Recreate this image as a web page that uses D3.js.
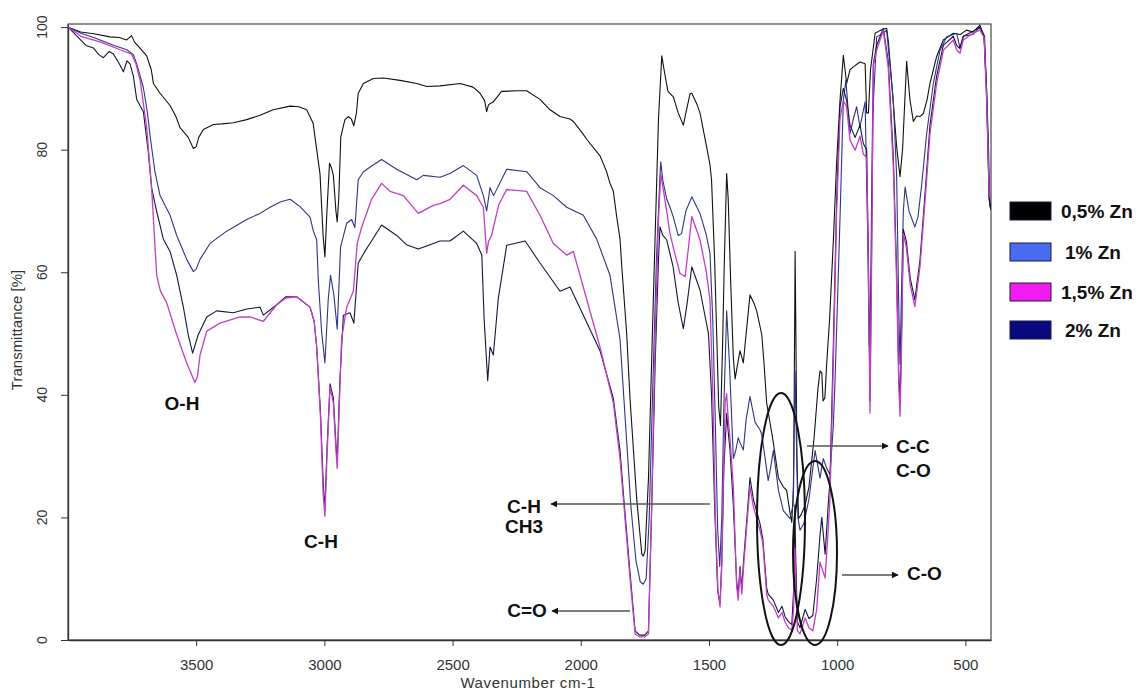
<!DOCTYPE html>
<html>
<head>
<meta charset="utf-8">
<script src="https://cdn.jsdelivr.net/npm/d3@7"></script>
<style>
  body { margin: 0; background: #fff; }
  svg { display: block; font-family: "Liberation Sans", Arial, sans-serif; }
  .axis path, .axis line { stroke: #333; }
  .lbl { font-weight: bold; font-size: 19px; fill: #111; }
</style>
</head>
<body>
<div id="chart"></div>
<script>
// FTIR spectra, [wavenumber, transmittance %]
const zn05 = [[4000,100],[3990,99.8],[3950,99.2],[3900,98.9],[3836,98.4],[3800,98.3],[3771,97.9],[3752,98.6],[3740,97.5],[3726,96.9],[3693,95.3],[3675,93],[3667,90.8],[3641,89.2],[3602,87.2],[3580,85.5],[3563,83.6],[3531,82],[3511,80.2],[3500,80.5],[3490,82],[3472,83.3],[3433,84.1],[3400,84.2],[3355,84.4],[3303,84.9],[3251,85.6],[3200,86.5],[3134,87.1],[3100,87],[3069,86.5],[3044,84.3],[3030,80],[3017,76],[3005,66],[2998,62.5],[2990,70],[2980,77.8],[2972,77],[2965,75.8],[2955,70],[2950,68.2],[2944,72],[2936,82.1],[2920,84.9],[2907,85.4],[2895,85],[2885,83.9],[2875,86],[2868,89.2],[2848,90.8],[2809,91.6],[2770,91.7],[2705,91.3],[2640,90.8],[2600,90.3],[2549,90.4],[2471,90.8],[2420,90.2],[2393,89.2],[2375,88],[2367,86.2],[2360,87.3],[2354,87.5],[2341,87.8],[2309,89.5],[2250,89.6],[2211,89.6],[2159,88.2],[2120,86.5],[2081,85.4],[2042,85],[2029,84.6],[1990,82.5],[1977,81.7],[1925,79],[1900,76.5],[1886,74.5],[1873,73.2],[1860,69.1],[1847,65.4],[1840,60.9],[1821,50],[1808,39.4],[1782,23.1],[1762,14],[1756,13.7],[1749,14.6],[1736,26.4],[1717,55.6],[1697,84.9],[1684,95.3],[1675,93],[1660,89.5],[1639,88.6],[1620,86],[1600,84],[1590,86],[1574,89.1],[1567,89.2],[1548,87.5],[1535,86],[1509,80.4],[1496,77.5],[1490,75.1],[1478,62],[1470,50],[1462,38],[1455,35],[1447,48],[1440,62],[1431,76.1],[1425,72],[1415,58],[1405,46],[1398,42.6],[1390,44.6],[1379,47.2],[1366,45.2],[1355,50],[1340,56.3],[1325,55],[1314,53.7],[1294,49.8],[1285,45],[1275,38.7],[1260,35],[1249,32.2],[1229,26.4],[1210,25],[1197,24.4],[1185,21],[1177,19.2],[1170,25],[1166,50],[1164,63.4],[1161,50],[1157,30],[1151,19.8],[1140,20.5],[1125,22],[1110,25],[1090,33],[1075,41],[1067,43.9],[1060,43.6],[1055,39],[1048,39.5],[1041,45],[1030,52],[1015,65],[1002,78],[989,88],[976,95.4],[963,90.8],[950,93],[937,93.5],[911,94.3],[891,94],[885,86],[878,86],[870,93],[852,99],[830,99.5],[807,99.8],[800,97.5],[787,90.8],[768,80.5],[755,75.6],[745,80],[729,94.4],[716,88.1],[703,84.6],[690,85.5],[677,85.4],[664,85.9],[650,88],[638,90.8],[612,95.2],[586,97.9],[547,99],[520,98.8],[495,99.5],[470,99.2],[443,100.3],[427,98.4],[417,89.7],[407,71.8],[401,70.2]];

const zn1 = [[4000,100],[3950,99],[3900,98.3],[3875,97.9],[3820,97],[3771,96.3],[3745,95.5],[3732,94],[3706,90.1],[3690,86],[3680,82.3],[3661,76.4],[3641,72.5],[3602,69.3],[3576,66],[3537,62.1],[3511,60.1],[3500,60.5],[3485,62.1],[3446,64.7],[3381,66.7],[3303,68.6],[3251,69.6],[3212,70.6],[3170,71.5],[3134,71.9],[3095,70.7],[3056,69],[3043,66.7],[3030,65.3],[3024,58.9],[3011,50.4],[2998,45.2],[2985,55.6],[2976,59.5],[2963,56.3],[2950,50.7],[2937,64.1],[2913,68],[2894,68.6],[2881,67.3],[2868,75.1],[2848,76.4],[2810,77.5],[2777,78.4],[2718,76.8],[2640,75.1],[2614,75.8],[2549,75.5],[2510,76.1],[2458,77.4],[2406,75.8],[2380,72.5],[2367,70],[2360,72],[2354,73.8],[2340,72.5],[2289,76.8],[2211,76.4],[2159,73.8],[2107,72.5],[2055,70.6],[1990,69.3],[1938,65.4],[1886,59.5],[1847,49.1],[1825,35],[1805,22],[1785,13],[1768,9.5],[1756,9.1],[1745,10],[1733,20],[1720,40],[1705,62],[1691,76],[1688,78],[1680,75],[1665,72],[1652,70.6],[1639,69],[1620,66],[1607,66.3],[1590,70],[1567,72.3],[1535,69.6],[1510,66],[1496,63.1],[1485,52],[1475,35],[1466,18],[1458,12],[1450,20],[1442,38],[1431,53.7],[1420,45],[1405,29.6],[1395,31],[1386,33],[1379,32.2],[1366,31],[1355,36],[1340,39.7],[1320,35.5],[1301,34.3],[1294,33.5],[1269,26],[1260,28],[1249,30.9],[1229,24.4],[1210,21.1],[1184,19.8],[1172,22],[1166,38],[1164,43.9],[1160,35],[1153,20],[1145,17.9],[1130,19],[1110,23],[1095,28],[1086,30.9],[1067,26.4],[1054,29.6],[1041,28],[1028,27],[1015,35],[1008,42.6],[989,68.6],[976,88],[966,91.3],[950,82.6],[937,85],[924,87],[911,83.7],[891,87.8],[881,66.3],[875,48],[870,55],[862,85],[846,98.4],[820,99],[807,99.5],[781,88],[768,75.6],[760,55],[755,45],[750,55],[742,70],[735,73.9],[720,70],[697,67.4],[685,69],[671,74],[651,82.6],[625,90.8],[599,96.2],[573,98.4],[534,99],[521,96.6],[508,98.5],[470,98.8],[443,100],[425,98.5],[411,82.6],[404,70.6]];

const zn15 = [[4000,100],[3950,98.5],[3875,97.6],[3797,96.3],[3752,95.6],[3735,94],[3719,91.4],[3693,83.6],[3674,73.8],[3654,59.5],[3640,57],[3615,55],[3576,49.8],[3537,45.2],[3505,42],[3495,43],[3485,46.5],[3459,50.4],[3407,51.7],[3329,52.7],[3290,52.7],[3238,52],[3186,54.7],[3150,55.8],[3108,56],[3056,54.3],[3040,52],[3030,47.8],[3015,36.1],[3005,24],[2998,20.2],[2990,30],[2978,41.3],[2965,38.7],[2955,31],[2950,28],[2942,38],[2933,49.1],[2913,54.3],[2887,56.9],[2872,64.7],[2855,67.3],[2816,71.9],[2777,74.5],[2744,73.2],[2692,72.5],[2634,69.6],[2575,70.9],[2549,71.2],[2510,71.9],[2458,74.2],[2406,72.5],[2380,70.6],[2367,63.1],[2360,65],[2348,66],[2320,71],[2289,73.5],[2211,73.2],[2159,69.3],[2107,64.7],[2055,62.8],[2029,63.4],[1977,55.6],[1925,47.8],[1873,38.7],[1847,29.6],[1834,23.1],[1808,10.1],[1788,1],[1770,0.5],[1750,0.5],[1736,1],[1723,23],[1710,49],[1697,68.6],[1688,76],[1680,74],[1665,70],[1652,66.3],[1639,64],[1613,59.8],[1593,59.3],[1580,64],[1567,69.1],[1535,65.3],[1510,60],[1496,55.5],[1485,40],[1475,20],[1465,8],[1457,5.4],[1450,12],[1442,30],[1437,38.7],[1431,40.2],[1425,36],[1418,32.9],[1405,25],[1392,8.8],[1386,6.5],[1379,11.4],[1372,7.5],[1365,12],[1350,20],[1340,25],[1327,21.8],[1301,17.9],[1290,15.8],[1275,7.5],[1269,6.5],[1249,5.5],[1229,3.6],[1215,4.5],[1203,2.9],[1190,2],[1177,1.6],[1170,5],[1165,15],[1162,10],[1155,1.5],[1145,1],[1125,3.6],[1110,2],[1095,1.5],[1080,5],[1067,12.7],[1047,10.1],[1035,18],[1028,23.1],[1015,45],[1002,70],[995,78],[989,85],[976,88],[963,87],[950,81.6],[930,79.9],[911,82.2],[898,79.3],[885,78.7],[878,60],[872,37],[866,60],[859,93.7],[846,96.2],[820,99.5],[801,93.5],[781,77.2],[768,58.2],[760,42],[755,36.5],[750,45],[742,66.3],[730,64],[715,58],[697,54.4],[677,60.9],[657,71.8],[638,82.6],[612,90.8],[586,96.2],[547,97.9],[534,96.3],[521,95.7],[508,97.9],[470,99],[443,99.5],[427,98.3],[417,88.1],[407,72.9],[401,71.8]];

const zn2 = [[4000,100],[3953,98],[3930,97],[3901,96.6],[3880,95.5],[3862,95],[3840,96],[3823,95.6],[3800,94],[3784,92.7],[3770,94.5],[3758,94],[3745,92],[3732,88.2],[3706,86.2],[3687,79.7],[3674,73.8],[3654,69.9],[3628,65.4],[3602,63.4],[3576,59.5],[3550,54.3],[3531,49.8],[3514,46.8],[3492,49.8],[3459,52.7],[3420,53.7],[3355,53.4],[3303,54],[3251,54.3],[3238,53],[3186,54.7],[3150,56],[3108,56],[3056,54.3],[3040,52],[3030,47.8],[3015,37],[3005,26],[2998,21.2],[2990,31],[2978,41.8],[2965,39.5],[2955,32],[2950,29],[2940,42],[2926,53],[2900,53.4],[2885,51.7],[2868,61.5],[2842,63.4],[2810,65.5],[2777,67.7],[2718,66],[2680,64.5],[2634,63.8],[2575,64.7],[2549,65.1],[2510,65.1],[2458,66.7],[2406,64.7],[2386,62.8],[2377,52.4],[2363,42.3],[2354,47.8],[2341,46.5],[2322,55.6],[2289,64.4],[2217,65.1],[2159,61.5],[2081,56.9],[2042,57.6],[1990,53],[1925,47.2],[1873,39.4],[1847,30.9],[1834,24],[1808,11],[1788,1.5],[1770,0.8],[1750,0.8],[1736,1.5],[1723,22],[1710,45],[1697,62],[1691,67.4],[1680,66],[1665,65.3],[1640,60.9],[1620,55],[1600,50.8],[1585,55],[1567,60.9],[1535,57.1],[1502,50],[1490,40],[1478,22],[1466,8],[1457,6],[1450,13],[1442,28],[1431,37],[1425,34],[1418,31],[1405,22],[1392,9.5],[1386,7.5],[1379,12],[1372,8.5],[1365,13],[1350,21],[1340,26.5],[1327,23],[1301,19],[1290,16.5],[1275,8.5],[1269,7.5],[1249,6.5],[1229,4.5],[1215,5.5],[1203,3.8],[1190,3],[1177,2.5],[1170,8],[1165,22],[1162,14],[1155,3],[1145,2],[1125,5],[1110,3.5],[1095,4],[1080,10],[1067,17],[1060,20],[1047,14],[1035,22],[1028,26],[1015,48],[1002,72],[989,87],[976,90],[963,88],[950,84],[930,82],[911,84],[898,81],[885,80],[878,62],[872,39],[866,62],[859,94],[846,97],[820,99.8],[801,94.5],[781,79],[768,60],[760,44],[755,38.5],[750,47],[742,67],[730,65],[715,59],[697,55.5],[677,62],[657,73],[638,84],[612,92],[586,97],[547,98.5],[534,97],[521,96.5],[508,98.5],[470,99.3],[443,100],[427,98.5],[417,88.5],[407,72],[401,70.5]];

const seriesNames = ["0,5% Zn", "1% Zn", "1,5% Zn", "2% Zn"];
const legendColors = ["#000000", "#4a6cf0", "#f01cf0", "#0a0a80"];
const lineColors = ["#111111", "#2e3488", "#c23ec8", "#14143c"];
const xTicks = [3500, 3000, 2500, 2000, 1500, 1000, 500];
const yTicks = [0, 20, 40, 60, 80, 100];

const W = 1138, H = 693;
const plot = {left: 68, right: 991, top: 24, bottom: 640};

const svg = d3.select("#chart").append("svg")
  .attr("width", W)
  .attr("height", H);

const x = d3.scaleLinear().domain([4000, 400]).range([plot.left, plot.right]);
const y = d3.scaleLinear().domain([0, 100.5]).range([plot.bottom, plot.top]);

svg.append("clipPath").attr("id", "clip")
  .append("rect")
  .attr("x", plot.left).attr("y", plot.top)
  .attr("width", plot.right - plot.left).attr("height", plot.bottom - plot.top);

// box
svg.append("rect")
  .attr("x", plot.left).attr("y", plot.top)
  .attr("width", plot.right - plot.left).attr("height", plot.bottom - plot.top)
  .attr("fill", "none").attr("stroke", "#555").attr("stroke-width", 1.3);

// x axis
const gx = svg.append("g")
  .attr("class", "axis")
  .attr("transform", "translate(0," + plot.bottom + ")")
  .call(d3.axisBottom(x).tickValues(xTicks).tickFormat(d3.format("d"))
    .tickSize(6).tickPadding(13).tickSizeOuter(0));
gx.select(".domain").attr("stroke", "#222").attr("stroke-width", 1.3);
gx.selectAll("text").attr("font-size", 15).attr("fill", "#333")
  .attr("font-family", "Liberation Sans, Arial, sans-serif");

// y axis, labels turned like R does
const gy = svg.append("g")
  .attr("class", "axis")
  .attr("transform", "translate(" + plot.left + ",0)")
  .call(d3.axisLeft(y).tickValues(yTicks).tickSize(7).tickSizeOuter(0));
gy.select(".domain").attr("stroke", "#222").attr("stroke-width", 1.3);
gy.selectAll("text").remove();

svg.append("g").selectAll("text")
  .data(yTicks)
  .join("text")
  .attr("transform", d => "translate(47," + y(d) + ") rotate(-90)")
  .attr("text-anchor", "middle")
  .attr("font-size", 14)
  .attr("fill", "#333")
  .text(d => d);

svg.append("text")
  .attr("transform", "translate(22,330) rotate(-90)")
  .attr("text-anchor", "middle")
  .attr("font-size", 15)
  .attr("fill", "#333")
  .text("Transmittance [%]");

svg.append("text")
  .attr("x", 528).attr("y", 688)
  .attr("text-anchor", "middle")
  .attr("font-size", 15)
  .attr("letter-spacing", 0.6)
  .attr("fill", "#333")
  .text("Wavenumber cm-1");

// spectra
const line = d3.line()
  .x(d => x(d[0]))
  .y(d => y(d[1]));

const spectra = [zn05, zn1, zn2, zn15];
const order = [0, 1, 3, 2];
const lines = svg.append("g").attr("clip-path", "url(#clip)");
spectra.forEach(function (s, i) {
  lines.append("path")
    .attr("d", line(s))
    .attr("fill", "none")
    .attr("stroke", lineColors[order[i]])
    .attr("stroke-width", order[i] === 2 ? 1.3 : 1.1)
    .attr("stroke-linejoin", "round");
});

// annotation ellipses
svg.append("ellipse")
  .attr("cx", 781).attr("cy", 519).attr("rx", 24).attr("ry", 126)
  .attr("fill", "none").attr("stroke", "#111").attr("stroke-width", 2);
svg.append("ellipse")
  .attr("cx", 815).attr("cy", 553).attr("rx", 22).attr("ry", 92)
  .attr("fill", "none").attr("stroke", "#111").attr("stroke-width", 2);

// arrows
svg.append("defs").append("marker")
  .attr("id", "head")
  .attr("viewBox", "0 0 10 10")
  .attr("refX", 9).attr("refY", 5)
  .attr("markerWidth", 7).attr("markerHeight", 7)
  .attr("markerUnits", "userSpaceOnUse")
  .attr("orient", "auto")
  .append("path").attr("d", "M0,0 L10,5 L0,10 z").attr("fill", "#111");

const arrows = [
  [710, 504, 551, 504],
  [630, 611, 552, 611],
  [807, 446, 888, 446],
  [842, 575, 898, 575]
];
svg.append("g").selectAll("line")
  .data(arrows)
  .join("line")
  .attr("x1", d => d[0]).attr("y1", d => d[1])
  .attr("x2", d => d[2]).attr("y2", d => d[3])
  .attr("stroke", "#555").attr("stroke-width", 1.5)
  .attr("marker-end", "url(#head)");

const notes = [
  ["O-H", 182, 410, "middle"],
  ["C-H", 321, 548, "middle"],
  ["C-H", 524, 513, "middle"],
  ["CH3", 524, 533, "middle"],
  ["C=O", 527, 617, "middle"],
  ["C-C", 896, 453, "start"],
  ["C-O", 896, 477, "start"],
  ["C-O", 907, 580, "start"]
];
svg.append("g").selectAll("text")
  .data(notes)
  .join("text")
  .attr("class", "lbl")
  .attr("x", d => d[1]).attr("y", d => d[2])
  .attr("text-anchor", d => d[3])
  .text(d => d[0]);

// legend
const legY = [202, 243, 283, 321];
const leg = svg.append("g");
leg.selectAll("rect")
  .data(seriesNames)
  .join("rect")
  .attr("x", 1010).attr("y", (d, i) => legY[i])
  .attr("width", 41).attr("height", 18)
  .attr("fill", (d, i) => legendColors[i])
  .attr("stroke", "#1a1a3a").attr("stroke-width", 1);
leg.selectAll("text")
  .data(seriesNames)
  .join("text")
  .attr("class", "lbl")
  .attr("x", (d, i) => (i === 0 || i === 2) ? 1061 : 1065)
  .attr("y", (d, i) => legY[i] + 16)
  .text(d => d);
</script>
</body>
</html>
